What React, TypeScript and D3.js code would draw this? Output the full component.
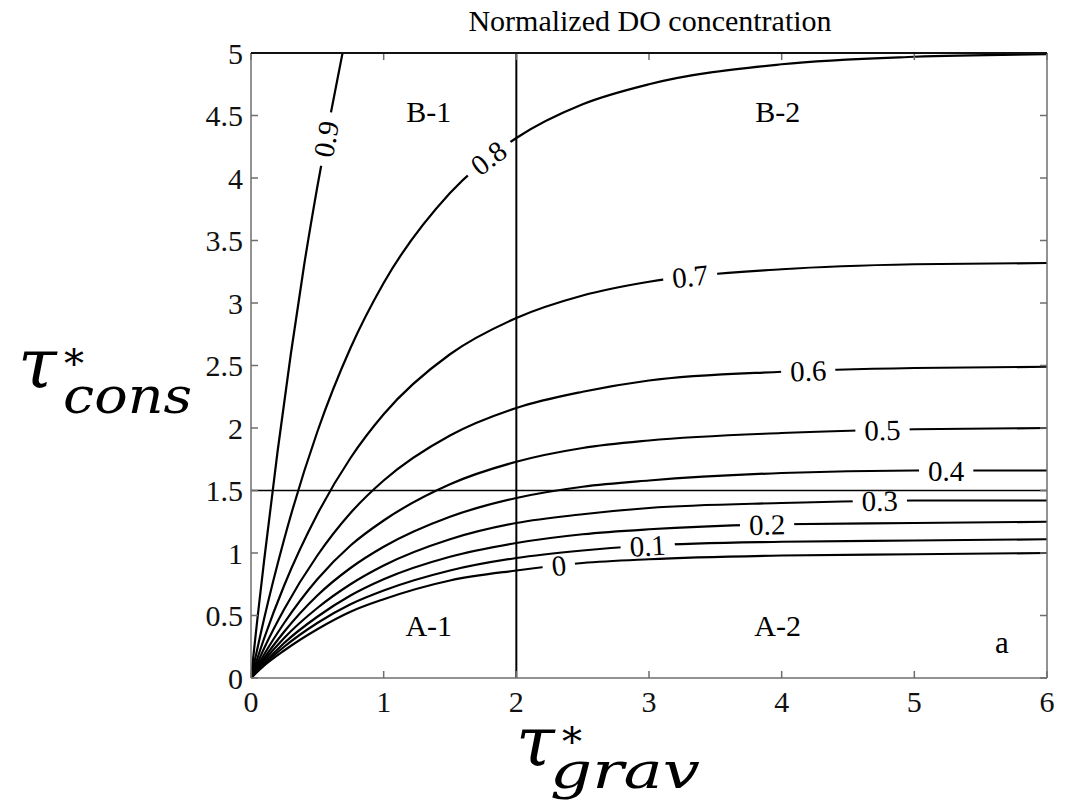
import { useEffect, useRef } from "react"
import * as d3 from "d3"

// tau*_grav sample positions
const TAU_GRAV = [0, 0.1, 0.25, 0.5, 0.75, 1, 1.5, 2, 2.5, 3, 4, 5, 6]
const TAU_GRAV_09 = [0, 0.05, 0.1, 0.2, 0.3, 0.4, 0.5, 0.6, 0.69]

// tau*_cons of each iso-line of normalized DO concentration
const DO_00 = [0, 0.1, 0.22, 0.39, 0.53, 0.63, 0.78, 0.86, 0.92, 0.95, 0.98, 0.99, 1.0]
const DO_01 = [0, 0.11, 0.25, 0.44, 0.59, 0.7, 0.86, 0.96, 1.02, 1.06, 1.09, 1.1, 1.11]
const DO_02 = [0, 0.12, 0.28, 0.49, 0.66, 0.79, 0.97, 1.08, 1.15, 1.19, 1.23, 1.24, 1.25]
const DO_03 = [0, 0.14, 0.32, 0.56, 0.75, 0.9, 1.11, 1.24, 1.31, 1.36, 1.4, 1.42, 1.42]
const DO_04 = [0, 0.16, 0.37, 0.66, 0.88, 1.05, 1.29, 1.44, 1.53, 1.58, 1.64, 1.66, 1.66]
const DO_05 = [0, 0.19, 0.44, 0.79, 1.06, 1.26, 1.55, 1.73, 1.84, 1.9, 1.96, 1.99, 2.0]
const DO_06 = [0, 0.24, 0.55, 0.98, 1.32, 1.58, 1.94, 2.16, 2.29, 2.38, 2.45, 2.48, 2.49]
const DO_07 = [0, 0.32, 0.74, 1.31, 1.76, 2.11, 2.59, 2.88, 3.06, 3.17, 3.27, 3.31, 3.32]
const DO_08 = [0, 0.48, 1.11, 1.97, 2.64, 3.16, 3.88, 4.32, 4.59, 4.75, 4.91, 4.97, 4.99]
const DO_09 = [0, 0.49, 0.95, 1.81, 2.59, 3.3, 3.93, 4.51, 5.0]

const LEVELS = ["0", "0.1", "0.2", "0.3", "0.4", "0.5", "0.6", "0.7", "0.8", "0.9"]
// tau*_grav where each contour label sits
const LABEL_AT = [2.32, 2.99, 3.89, 4.74, 5.24, 4.76, 4.2, 3.31, 1.79, 0.565]

const X_TICKS = [0, 1, 2, 3, 4, 5, 6]
const Y_TICKS = [0, 0.5, 1, 1.5, 2, 2.5, 3, 3.5, 4, 4.5, 5]

// regime boundaries
const GRAV_SPLIT = 2
const CONS_SPLIT = 1.5

const REGIONS = ["A-1", "A-2", "B-1", "B-2"]

const SERIF = "'Liberation Serif', 'Times New Roman', serif"
const MATH = "'DejaVu Serif', serif"

export default function App() {
    const ref = useRef<SVGSVGElement>(null)

    useEffect(() => {
        const node = ref.current
        if (!node) return
        const width = 1081
        const height = 803

        const svg = d3.select(node)
        svg.selectAll("*").remove()

        const x = d3.scaleLinear().domain([0, 6]).range([251, 1047])
        const y = d3.scaleLinear().domain([0, 5]).range([678, 53])

        const defs = svg.append("defs")
        defs.append("clipPath")
            .attr("id", "plot")
            .append("rect")
            .attr("x", x(0))
            .attr("y", y(5))
            .attr("width", x(6) - x(0))
            .attr("height", y(0) - y(5))

        const series = [DO_00, DO_01, DO_02, DO_03, DO_04, DO_05, DO_06, DO_07, DO_08, DO_09].map((vals, i) => {
            const xs = i === 9 ? TAU_GRAV_09 : TAU_GRAV
            return xs.map((g, j) => [g, vals[j]] as [number, number])
        })

        const line = d3.line<[number, number]>()
            .x(d => x(d[0]))
            .y(d => y(d[1]))
            .curve(d3.curveMonotoneX)

        // regime boundary lines
        svg.append("line")
            .attr("x1", x(GRAV_SPLIT)).attr("x2", x(GRAV_SPLIT))
            .attr("y1", y(0)).attr("y2", y(5))
            .attr("stroke", "#000").attr("stroke-width", 2)
        svg.append("line")
            .attr("x1", x(0)).attr("x2", x(6))
            .attr("y1", y(CONS_SPLIT)).attr("y2", y(CONS_SPLIT))
            .attr("stroke", "#000").attr("stroke-width", 1.6)

        const curves = svg.append("g").attr("clip-path", "url(#plot)")
        const labels = svg.append("g")

        series.forEach((pts, i) => {
            const path = curves.append("path")
                .datum(pts)
                .attr("fill", "none")
                .attr("stroke", "#000")
                .attr("stroke-width", 2.2)
                .attr("d", line)

            const p = path.node() as SVGPathElement
            const total = p.getTotalLength()
            const target = x(LABEL_AT[i])
            let lo = 0
            let hi = total
            for (let k = 0; k < 40; k++) {
                const mid = (lo + hi) / 2
                if (p.getPointAtLength(mid).x < target) lo = mid
                else hi = mid
            }
            const l = (lo + hi) / 2
            const c = p.getPointAtLength(l)
            const a = p.getPointAtLength(Math.max(0, l - 4))
            const b = p.getPointAtLength(Math.min(total, l + 4))
            const angle = (Math.atan2(b.y - a.y, b.x - a.x) * 180) / Math.PI

            const text = labels.append("text")
                .attr("transform", `translate(${c.x},${c.y}) rotate(${angle})`)
                .attr("text-anchor", "middle")
                .attr("dy", "0.35em")
                .attr("font-family", SERIF)
                .attr("font-size", 29)
                .attr("fill", "#000")
                .text(LEVELS[i])
            const tw = (text.node() as SVGTextElement).getComputedTextLength()

            const mask = defs.append("mask")
                .attr("id", `gap${i}`)
                .attr("maskUnits", "userSpaceOnUse")
                .attr("x", 0).attr("y", 0)
                .attr("width", width).attr("height", height)
            mask.append("rect")
                .attr("x", 0).attr("y", 0)
                .attr("width", width).attr("height", height)
                .attr("fill", "#fff")
            mask.append("rect")
                .attr("transform", `translate(${c.x},${c.y}) rotate(${angle})`)
                .attr("x", -(tw + 18) / 2)
                .attr("y", -14)
                .attr("width", tw + 18)
                .attr("height", 28)
                .attr("fill", "#000")
            path.attr("mask", `url(#gap${i})`)
        })

        // frame with inward ticks on all four sides
        const frame = svg.append("g").attr("stroke", "#6e6e6e").attr("stroke-width", 1.5)
        frame.append("line").attr("x1", x(0)).attr("x2", x(0)).attr("y1", y(0)).attr("y2", y(5))
        frame.append("line").attr("x1", x(6)).attr("x2", x(6)).attr("y1", y(0)).attr("y2", y(5))
        frame.append("line").attr("x1", x(0)).attr("x2", x(6)).attr("y1", y(0)).attr("y2", y(0))
        svg.append("line")
            .attr("x1", x(0)).attr("x2", x(6)).attr("y1", y(5)).attr("y2", y(5))
            .attr("stroke", "#111").attr("stroke-width", 2.2)

        const tk = 7
        X_TICKS.forEach(t => {
            frame.append("line").attr("x1", x(t)).attr("x2", x(t)).attr("y1", y(0)).attr("y2", y(0) - tk)
            frame.append("line").attr("x1", x(t)).attr("x2", x(t)).attr("y1", y(5)).attr("y2", y(5) + tk)
        })
        Y_TICKS.forEach(t => {
            frame.append("line").attr("x1", x(0)).attr("x2", x(0) + tk).attr("y1", y(t)).attr("y2", y(t))
            frame.append("line").attr("x1", x(6)).attr("x2", x(6) - tk).attr("y1", y(t)).attr("y2", y(t))
        })

        const fmt = d3.format("~g")
        svg.append("g")
            .selectAll("text")
            .data(X_TICKS)
            .join("text")
            .attr("x", d => x(d))
            .attr("y", y(0) + 34)
            .attr("text-anchor", "middle")
            .attr("font-family", SERIF)
            .attr("font-size", 30)
            .attr("fill", "#111")
            .text(d => fmt(d))
        svg.append("g")
            .selectAll("text")
            .data(Y_TICKS)
            .join("text")
            .attr("x", x(0) - 8)
            .attr("y", d => y(d))
            .attr("dy", "0.35em")
            .attr("text-anchor", "end")
            .attr("font-family", SERIF)
            .attr("font-size", 30)
            .attr("fill", "#111")
            .text(d => fmt(d))

        // regime names
        const regionPos: [number, number][] = [[1.34, 0.34], [3.97, 0.34], [1.34, 4.45], [3.97, 4.45]]
        svg.append("g")
            .selectAll("text")
            .data(REGIONS)
            .join("text")
            .attr("x", (d, i) => x(regionPos[i][0]))
            .attr("y", (d, i) => y(regionPos[i][1]))
            .attr("text-anchor", "middle")
            .attr("font-family", SERIF)
            .attr("font-size", 30)
            .attr("fill", "#000")
            .text(d => d)

        svg.append("text")
            .attr("x", x(5.66))
            .attr("y", y(0.2))
            .attr("text-anchor", "middle")
            .attr("font-family", SERIF)
            .attr("font-size", 31)
            .text("a")

        svg.append("text")
            .attr("x", 650)
            .attr("y", 31)
            .attr("text-anchor", "middle")
            .attr("font-family", SERIF)
            .attr("font-size", 30)
            .text("Normalized DO concentration")

        // axis titles: tau*_cons (left) and tau*_grav (bottom), one text each
        const tau = (tx: number, ty: number, sub: string, subLen: number, subX: number, subDy: number) => {
            const t = svg.append("text")
                .attr("x", tx)
                .attr("y", ty)
                .attr("font-family", MATH)
                .attr("fill", "#000")
            t.append("tspan")
                .attr("font-style", "italic").attr("font-size", 70).text("τ")
            t.append("tspan")
                .attr("x", tx + 46).attr("y", ty - 10)
                .attr("font-size", 40).text("*")
            t.append("tspan")
                .attr("x", subX).attr("y", ty + subDy)
                .attr("font-style", "italic").attr("font-size", 50)
                .attr("textLength", subLen).attr("lengthAdjust", "spacingAndGlyphs")
                .text(sub)
        }
        tau(18, 387, "cons", 129, 63, 26)
        tau(516, 765, "grav", 150, 550, 23)
    }, [])

    return (
        <svg
            ref={ref}
            width={1081}
            height={803}
            style={{ position: "absolute", left: 0, top: 0, background: "#fff" }}
        />
    )
}
